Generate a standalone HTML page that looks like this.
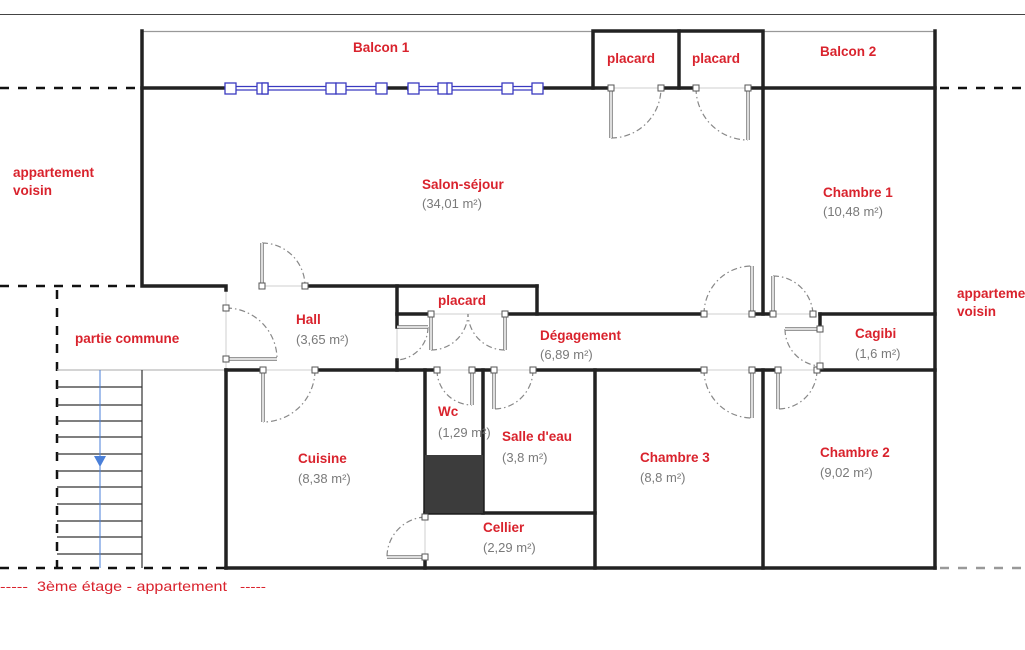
<!DOCTYPE html>
<html><head><meta charset="utf-8"><style>
html,body{margin:0;padding:0;background:#fff;}
svg{display:block;}
.t{font-family:"Liberation Sans",sans-serif;font-size:13.5px;font-weight:bold;fill:#d9232d;}
.a{font-family:"Liberation Sans",sans-serif;font-size:13px;fill:#7a7a7a;}
.w{stroke:#222;stroke-width:3.5;fill:none;stroke-linecap:square;}
.g{stroke:#cfcfcf;stroke-width:1;fill:none;}
.arc{stroke:#888;stroke-width:1.2;fill:none;stroke-dasharray:6 3 1.5 3;}
.leaf{stroke:#777;stroke-width:3.5;fill:none;}
.leafi{stroke:#fff;stroke-width:1.5;fill:none;}
.h{fill:#fff;stroke:#555;stroke-width:1;}
.d{stroke:#111;stroke-width:2.5;stroke-dasharray:9 9;fill:none;}
</style></head><body>
<svg width="1025" height="650" viewBox="0 0 1025 650" xmlns="http://www.w3.org/2000/svg">
<line x1="0" y1="14.5" x2="1025" y2="14.5" stroke="#444" stroke-width="1"/>
<line class="d" x1="0" y1="88" x2="140" y2="88"/>
<line class="d" x1="940" y1="88" x2="1025" y2="88"/>
<line class="d" x1="0" y1="286" x2="140" y2="286"/>
<line class="d" x1="57" y1="290" x2="57" y2="568"/>
<line class="d" x1="0" y1="568" x2="226" y2="568"/>
<line x1="940" y1="568" x2="1025" y2="568" stroke="#999" stroke-width="2.5" stroke-dasharray="9 9"/>
<line x1="142" y1="31.5" x2="935" y2="31.5" stroke="#999" stroke-width="1.2"/>
<g stroke="#333" stroke-width="1.2">
<line x1="57" y1="370" x2="226" y2="370" stroke="#bbb"/>
<line x1="142" y1="370" x2="142" y2="568"/>
<line x1="57" y1="387" x2="142" y2="387"/><line x1="57" y1="405" x2="142" y2="405"/>
<line x1="57" y1="421" x2="142" y2="421"/><line x1="57" y1="437" x2="142" y2="437"/>
<line x1="57" y1="454" x2="142" y2="454"/><line x1="57" y1="471" x2="142" y2="471"/>
<line x1="57" y1="487" x2="142" y2="487"/><line x1="57" y1="504" x2="142" y2="504"/>
<line x1="57" y1="521" x2="142" y2="521"/><line x1="57" y1="537" x2="142" y2="537"/>
<line x1="57" y1="554" x2="142" y2="554"/>
</g>
<line x1="100" y1="370" x2="100" y2="568" stroke="#4a7fd8" stroke-width="1"/>
<polygon points="94,456 106,456 100,467" fill="#4a7fd8"/>
<g class="g">
<line x1="262" y1="286" x2="305" y2="286"/>
<line x1="226" y1="290" x2="226" y2="370"/>
<line x1="262" y1="370" x2="316" y2="370"/>
<line x1="431" y1="314" x2="505" y2="314"/>
<line x1="397" y1="327" x2="397" y2="360"/>
<line x1="437" y1="370" x2="472" y2="370"/>
<line x1="494" y1="370" x2="533" y2="370"/>
<line x1="704" y1="314" x2="752" y2="314"/>
<line x1="773" y1="314" x2="813" y2="314"/>
<line x1="704" y1="370" x2="752" y2="370"/>
<line x1="778" y1="370" x2="817" y2="370"/>
<line x1="820" y1="329" x2="820" y2="366"/>
<line x1="425" y1="517" x2="425" y2="557"/>
<line x1="611" y1="88" x2="661" y2="88"/>
<line x1="696" y1="88" x2="748" y2="88"/>
</g>
<g class="w">
<path d="M142 31 V286 H226 V290"/>
<line x1="142" y1="88" x2="230" y2="88"/>
<line x1="381" y1="88" x2="407" y2="88"/>
<line x1="537" y1="88" x2="611" y2="88"/>
<line x1="661" y1="88" x2="696" y2="88"/>
<line x1="748" y1="88" x2="935" y2="88"/>
<path d="M593 88 V31 H763 V88"/>
<line x1="679" y1="31" x2="679" y2="88"/>
<line x1="935" y1="31" x2="935" y2="568"/>
<line x1="305" y1="286" x2="537" y2="286"/>
<line x1="537" y1="286" x2="537" y2="314"/>
<line x1="397" y1="286" x2="397" y2="327"/>
<line x1="397" y1="360" x2="397" y2="370"/>
<line x1="397" y1="314" x2="431" y2="314"/>
<line x1="505" y1="314" x2="704" y2="314"/>
<line x1="752" y1="314" x2="773" y2="314"/>
<line x1="820" y1="314" x2="935" y2="314"/>
<line x1="763" y1="88" x2="763" y2="314"/>
<line x1="820" y1="314" x2="820" y2="329"/>
<line x1="226" y1="370" x2="226" y2="568"/>
<line x1="226" y1="568" x2="935" y2="568"/>
<line x1="226" y1="370" x2="262" y2="370"/>
<line x1="316" y1="370" x2="437" y2="370"/>
<line x1="472" y1="370" x2="494" y2="370"/>
<line x1="533" y1="370" x2="704" y2="370"/>
<line x1="752" y1="370" x2="778" y2="370"/>
<line x1="817" y1="370" x2="935" y2="370"/>
<line x1="425" y1="370" x2="425" y2="517"/>
<line x1="425" y1="557" x2="425" y2="568"/>
<line x1="483" y1="370" x2="483" y2="513"/>
<line x1="425" y1="513" x2="595" y2="513"/>
<line x1="595" y1="370" x2="595" y2="568"/>
<line x1="763" y1="370" x2="763" y2="568"/>
</g>
<rect x="425" y="455" width="58" height="58" fill="#3c3c3c"/>
<g>
<line x1="230" y1="86.5" x2="381" y2="86.5" stroke="#3a3ac0" stroke-width="1.2"/>
<line x1="230" y1="90" x2="381" y2="90" stroke="#3a3ac0" stroke-width="1.2"/>
<line x1="407" y1="86.5" x2="537" y2="86.5" stroke="#3a3ac0" stroke-width="1.2"/>
<line x1="407" y1="90" x2="537" y2="90" stroke="#3a3ac0" stroke-width="1.2"/>
<g fill="#fff" stroke="#3a3ac0" stroke-width="1.3">
<rect x="225" y="83" width="11" height="11"/><rect x="257" y="83" width="11" height="11"/><rect x="262" y="83" width="6" height="11"/>
<rect x="326" y="83" width="10" height="11"/><rect x="336" y="83" width="10" height="11"/>
<rect x="376" y="83" width="11" height="11"/><rect x="408" y="83" width="11" height="11"/>
<rect x="438" y="83" width="11" height="11"/><rect x="447" y="83" width="5" height="11"/>
<rect x="502" y="83" width="11" height="11"/><rect x="532" y="83" width="11" height="11"/>
</g></g>
<g class="arc">
<path d="M611 138 A50 50 0 0 0 661 88"/>
<path d="M696 88 A52 52 0 0 0 748 140"/>
<path d="M262 243 A43 43 0 0 1 305 286"/>
<path d="M226 308 A51 51 0 0 1 277 359"/>
<path d="M315 370 A52 52 0 0 1 263 422"/>
<path d="M431 350 A37 37 0 0 0 468 314"/>
<path d="M505 350 A37 37 0 0 1 468 314"/>
<path d="M428 327 A33 33 0 0 1 397 360"/>
<path d="M437 370 A35 35 0 0 0 472 405"/>
<path d="M533 370 A39 39 0 0 1 494 409"/>
<path d="M704 314 A48 48 0 0 1 752 266"/>
<path d="M773 276 A40 40 0 0 1 813 314"/>
<path d="M704 370 A48 48 0 0 0 752 418"/>
<path d="M817 370 A39 39 0 0 1 778 409"/>
<path d="M785 329 A37 37 0 0 0 820 366"/>
<path d="M425 517 A40 40 0 0 0 387 557"/>
</g>
<g>
<path class="leaf" d="M611 88V138 M748 88V140 M262 286V243 M226 359H277 M263 370V422 M431 314V350 M505 314V350 M397 327H428 M472 370V405 M494 370V409 M752 314V266 M773 314V276 M752 370V418 M778 370V409 M820 329H785 M425 557H387"/>
<path class="leafi" d="M611 88V138 M748 88V140 M262 286V243 M226 359H277 M263 370V422 M431 314V350 M505 314V350 M397 327H428 M472 370V405 M494 370V409 M752 314V266 M773 314V276 M752 370V418 M778 370V409 M820 329H785 M425 557H387"/>
</g>
<g class="h">
<rect x="608" y="85" width="6" height="6"/><rect x="658" y="85" width="6" height="6"/>
<rect x="693" y="85" width="6" height="6"/><rect x="745" y="85" width="6" height="6"/>
<rect x="259" y="283" width="6" height="6"/><rect x="302" y="283" width="6" height="6"/>
<rect x="223" y="305" width="6" height="6"/><rect x="223" y="356" width="6" height="6"/>
<rect x="260" y="367" width="6" height="6"/><rect x="312" y="367" width="6" height="6"/>
<rect x="428" y="311" width="6" height="6"/><rect x="502" y="311" width="6" height="6"/>
<rect x="434" y="367" width="6" height="6"/><rect x="469" y="367" width="6" height="6"/>
<rect x="491" y="367" width="6" height="6"/><rect x="530" y="367" width="6" height="6"/>
<rect x="701" y="311" width="6" height="6"/><rect x="749" y="311" width="6" height="6"/>
<rect x="770" y="311" width="6" height="6"/><rect x="810" y="311" width="6" height="6"/>
<rect x="701" y="367" width="6" height="6"/><rect x="749" y="367" width="6" height="6"/>
<rect x="775" y="367" width="6" height="6"/><rect x="814" y="367" width="6" height="6"/>
<rect x="817" y="326" width="6" height="6"/><rect x="817" y="363" width="6" height="6"/>
<rect x="422" y="514" width="6" height="6"/><rect x="422" y="554" width="6" height="6"/>
</g>
<g class="t">
<text x="353" y="52">Balcon 1</text>
<text x="607" y="63">placard</text>
<text x="692" y="63">placard</text>
<text x="820" y="56">Balcon 2</text>
<text x="13" y="177">appartement</text>
<text x="13" y="195">voisin</text>
<text x="422" y="189">Salon-séjour</text>
<text x="823" y="197">Chambre 1</text>
<text x="957" y="298">appartement</text>
<text x="957" y="316">voisin</text>
<text x="296" y="324">Hall</text>
<text x="75" y="343">partie commune</text>
<text x="438" y="305">placard</text>
<text x="540" y="340">Dégagement</text>
<text x="855" y="338">Cagibi</text>
<text x="438" y="416">Wc</text>
<text x="502" y="441">Salle d'eau</text>
<text x="298" y="463">Cuisine</text>
<text x="640" y="462">Chambre 3</text>
<text x="820" y="457">Chambre 2</text>
<text x="483" y="532">Cellier</text>
<text x="0" y="591" style="font-weight:normal;font-size:13px" textLength="28" lengthAdjust="spacingAndGlyphs">-----</text>
<text x="37" y="591" style="font-weight:normal;font-size:14px" textLength="190" lengthAdjust="spacingAndGlyphs">3ème étage - appartement</text>
<text x="240" y="591" style="font-weight:normal;font-size:13px" textLength="26" lengthAdjust="spacingAndGlyphs">-----</text>
</g>
<g class="a">
<text x="422" y="208">(34,01 m²)</text>
<text x="823" y="216">(10,48 m²)</text>
<text x="296" y="344">(3,65 m²)</text>
<text x="540" y="359">(6,89 m²)</text>
<text x="855" y="358">(1,6 m²)</text>
<text x="438" y="437">(1,29 m²)</text>
<text x="502" y="462">(3,8 m²)</text>
<text x="298" y="483">(8,38 m²)</text>
<text x="640" y="482">(8,8 m²)</text>
<text x="820" y="477">(9,02 m²)</text>
<text x="483" y="552">(2,29 m²)</text>
</g>
</svg>
</body></html>
